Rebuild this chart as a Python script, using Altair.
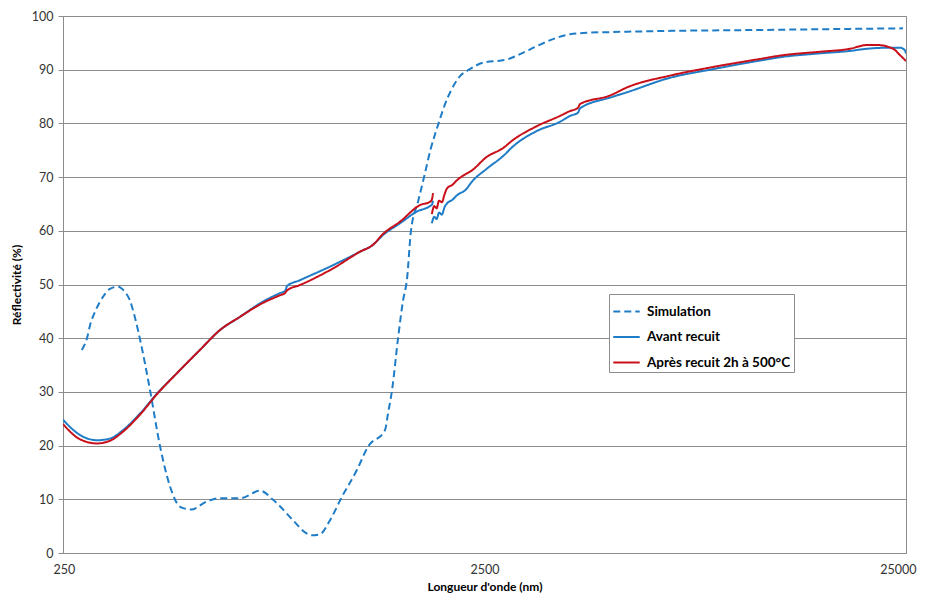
import altair as alt
import pandas as pd

# --- Simulation (dashed) ---
sim_wl = [277, 285, 290, 298, 306, 315, 323, 338, 349, 360, 370, 381, 402, 425, 449, 474, 503, 549, 589,
          658, 734, 788, 818, 878, 953, 974, 1018, 1075, 1148, 1246, 1323, 1452, 1476, 1509, 1559, 1602,
          1637, 1673, 1740, 1797, 1860, 1945, 2037, 2070, 2187, 2297, 2480, 2828, 3036, 3330, 3636,
          3988, 4450, 4965, 6522, 11260, 18410, 24590]
sim_val = [37.8, 40.0, 42.5, 45.0, 46.8, 48.3, 49.2, 49.6, 48.8, 47.1, 44.0, 39.7, 30.4, 19.8, 12.3, 8.6,
           8.1, 9.6, 10.2, 10.2, 11.6, 9.9, 8.7, 6.1, 3.5, 3.3, 3.5, 6.1, 10.5, 15.5, 19.8, 22.9, 26.0,
           30.4, 40.0, 47.0, 51.0, 60.0, 65.5, 70.0, 75.0, 80.0, 84.5, 85.7, 88.8, 90.0, 91.3, 91.9,
           92.9, 94.4, 95.7, 96.6, 96.9, 97.0, 97.2, 97.4, 97.6, 97.7]

# --- Avant recuit (blue), two detector segments ---
av1_wl = [250, 274, 301, 323, 347, 381, 418, 466, 528, 589, 658, 734, 818, 841, 850, 912, 1093, 1266,
          1360, 1436, 1576, 1729, 1856, 1877, 1887]
av1_val = [24.8, 22.0, 21.0, 21.3, 22.9, 26.0, 29.7, 33.5, 37.8, 41.5, 44.0, 46.5, 48.4, 48.8, 49.7, 50.8,
           53.6, 56.1, 57.4, 59.2, 61.4, 63.6, 64.6, 64.9, 65.6]
av2_wl = [1875, 1900, 1925, 1950, 1980, 2010, 2037, 2100, 2150, 2272, 2310, 2535, 2766, 2920, 3330, 3777,
          3988, 4167, 4212, 4965, 5445, 6888, 8570, 11260, 12770, 15380, 18410, 20200, 22900, 24200,
          24860, 25000]
av2_val = [61.4, 62.6, 62.2, 63.4, 63.0, 64.4, 65.1, 65.8, 66.6, 67.9, 68.7, 71.6, 73.9, 75.7, 78.6, 80.3,
           81.4, 82.0, 82.8, 84.8, 85.8, 88.5, 90.0, 91.7, 92.4, 93.0, 93.5, 93.9, 94.1, 94.1,
           93.6, 93.0]

# --- Après recuit 2h à 500°C (red), two detector segments ---
ap1_wl = [250, 274, 301, 323, 347, 381, 418, 466, 528, 589, 658, 734, 818, 841, 850, 912, 1093, 1266,
          1360, 1436, 1576, 1758, 1856, 1875, 1887]
ap1_val = [24.0, 21.2, 20.4, 20.9, 22.6, 25.8, 29.6, 33.5, 37.8, 41.5, 44.0, 46.3, 48.0, 48.4, 48.9, 49.9,
           53.0, 56.1, 57.4, 59.4, 61.7, 64.8, 65.4, 65.8, 67.0]
ap2_wl = [1875, 1900, 1925, 1950, 1980, 2010, 2037, 2100, 2150, 2272, 2310, 2535, 2766, 2920, 3330, 3777,
          3988, 4167, 4212, 4965, 5445, 6888, 8570, 11260, 12770, 15380, 18410, 20200, 21330, 23300,
          24200, 24860, 25000]
ap2_val = [63.1, 64.6, 64.2, 65.6, 65.3, 66.8, 67.9, 68.6, 69.4, 70.7, 71.0, 73.8, 75.4, 76.9, 79.5, 81.4,
           82.3, 82.9, 83.6, 85.2, 86.7, 88.9, 90.4, 92.0, 92.7, 93.3, 93.9, 94.6, 94.6, 93.9,
           92.7, 91.8, 91.6]

series_names = ["Simulation", "Avant recuit", "Après recuit 2h à 500°C"]
series_colors = ["#1f7cc6", "#1f7cc6", "#c8101a"]
series_dash = [[7, 4], [1, 0], [1, 0]]


def frame(wl, val, name, seg):
    return pd.DataFrame({"wl": wl, "val": val, "series": name, "seg": seg})


df_sim = frame(sim_wl, sim_val, series_names[0], "s")
df_av = pd.concat([frame(av1_wl, av1_val, series_names[1], "a1"),
                   frame(av2_wl, av2_val, series_names[1], "a2")])
df_ap = pd.concat([frame(ap1_wl, ap1_val, series_names[2], "b1"),
                   frame(ap2_wl, ap2_val, series_names[2], "b2")])

font = "Lato"

x_enc = alt.X("wl:Q", scale=alt.Scale(type="log", domain=[250, 25000], nice=False),
              axis=alt.Axis(values=[250, 2500, 25000], title="Longueur d'onde (nm)", grid=False,
                            ticks=False, labelFlush=True, labelFlushOffset=10, labelPadding=10,
                            format="d", titlePadding=6))
y_enc = alt.Y("val:Q", scale=alt.Scale(domain=[0, 100], nice=False),
              axis=alt.Axis(values=list(range(0, 101, 10)), title="Réflectivité (%)", grid=True,
                            tickSize=5, labelPadding=5, titlePadding=8))

legend_opts = dict(title=None, orient="none", legendX=546, legendY=278,
                   symbolType="stroke", symbolSize=700, symbolStrokeWidth=2,
                   fillColor="white", strokeColor="#8c8c8c", padding=3,
                   rowPadding=4.5, labelFontWeight="bold", labelFontSize=13.5,
                   labelFont=font, labelColor="#000000", labelOffset=6, labelLimit=300)

color_enc = alt.Color("series:N", scale=alt.Scale(domain=series_names, range=series_colors),
                      legend=alt.Legend(**legend_opts))
dash_enc = alt.StrokeDash("series:N", scale=alt.Scale(domain=series_names, range=series_dash),
                          legend=alt.Legend(**legend_opts))


def layer(df):
    return alt.Chart(df).mark_line(strokeWidth=2, clip=True, interpolate="monotone").encode(
        x=x_enc, y=y_enc, color=color_enc, strokeDash=dash_enc, detail="seg:N")


chart = alt.layer(layer(df_sim), layer(df_av), layer(df_ap)).properties(
    width=843, height=537,
    padding={"left": 55, "top": 8, "right": 11, "bottom": 40},
    autosize=alt.AutoSizeParams(type="none"),
).configure_view(stroke="#8c8c8c", strokeWidth=1).configure_axis(
    labelFont=font, titleFont=font, labelFontSize=12.5, titleFontSize=12,
    titleFontWeight="bold", labelColor="#333333", titleColor="#000000",
    domainColor="#8c8c8c", tickColor="#8c8c8c", gridColor="#8c8c8c", gridWidth=1,
)

chart.save("out.html", embed_options={"renderer": "svg", "actions": False})
